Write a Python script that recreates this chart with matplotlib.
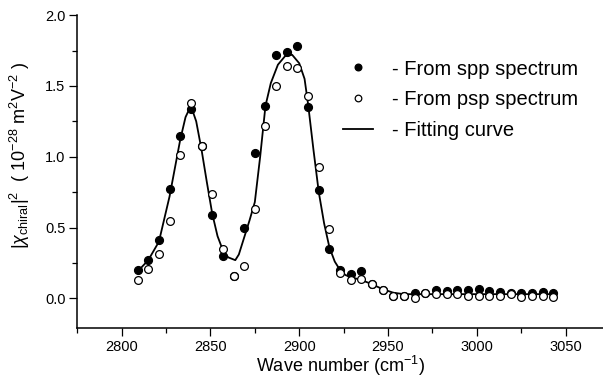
import numpy as np
import matplotlib
matplotlib.use("Agg")
import matplotlib.pyplot as plt
from matplotlib.ticker import MultipleLocator

plt.rcParams['font.family'] = ['Liberation Sans', 'DejaVu Sans']
plt.rcParams['mathtext.fontset'] = 'custom'
plt.rcParams['mathtext.rm'] = 'Liberation Sans'
plt.rcParams['mathtext.it'] = 'Liberation Sans:italic'

# measured points (wave number in cm^-1)
wave = 2809 + 6 * np.arange(40)

spp = [0.20, 0.27, 0.41, 0.77, 1.15, 1.34, 1.075, 0.59, 0.30, 0.16,
       0.50, 1.03, 1.36, 1.72, 1.74, 1.78, 1.35, 0.765, 0.35, 0.20,
       0.17, 0.19, 0.10, 0.06, 0.02, 0.015, 0.035, 0.04, 0.06, 0.055,
       0.06, 0.06, 0.065, 0.05, 0.045, 0.035, 0.035, 0.035, 0.045, 0.04]

psp = [0.13, 0.21, 0.31, 0.55, 1.01, 1.38, 1.075, 0.74, 0.35, 0.16,
       0.23, 0.63, 1.22, 1.50, 1.64, 1.63, 1.43, 0.93, 0.49, 0.18,
       0.13, 0.14, 0.10, 0.06, 0.02, 0.015, 0.005, 0.04, 0.03, 0.03,
       0.03, 0.02, 0.02, 0.02, 0.015, 0.03, 0.01, 0.015, 0.015, 0.01]

# fitting curve
fit_x = [2809, 2815, 2821, 2827, 2833, 2836, 2839, 2842, 2845, 2848,
         2851, 2854, 2857, 2860, 2864, 2866, 2869, 2872, 2875, 2878,
         2881, 2884, 2888, 2892, 2896, 2900, 2903, 2905, 2908, 2911,
         2914, 2917, 2920, 2923, 2926, 2929, 2935, 2941, 2947, 2953,
         2959, 2970, 2990, 3010, 3030, 3043]
fit_y = [0.19, 0.27, 0.40, 0.72, 1.12, 1.28, 1.36, 1.25, 1.05, 0.82,
         0.60, 0.44, 0.34, 0.29, 0.27, 0.31, 0.43, 0.55, 0.68, 1.00,
         1.36, 1.52, 1.65, 1.71, 1.72, 1.66, 1.55, 1.37, 1.05, 0.75,
         0.53, 0.36, 0.26, 0.20, 0.165, 0.15, 0.13, 0.10, 0.065, 0.04,
         0.03, 0.03, 0.03, 0.03, 0.03, 0.03]

fig = plt.figure(figsize=(6.03, 3.78), dpi=100)
ax = fig.add_axes([0.128, 0.133, 0.872, 0.827])

ax.plot(fit_x, fit_y, color='black', lw=1.3, zorder=1, label='- Fitting curve')
ax.plot(wave, spp, 'o', color='black', ms=5.6, zorder=2, label='- From spp spectrum')
ax.plot(wave, psp, 'o', mfc='white', mec='black', mew=0.9, ms=5.6, zorder=3,
        label='- From psp spectrum')

ax.set_xlim(2775, 3071)
ax.set_ylim(-0.207, 2.0)
ax.xaxis.set_major_locator(MultipleLocator(50))
ax.xaxis.set_minor_locator(MultipleLocator(25))
ax.yaxis.set_major_locator(MultipleLocator(0.5))
ax.yaxis.set_minor_locator(MultipleLocator(0.25))
ax.yaxis.set_major_formatter(matplotlib.ticker.FormatStrFormatter('%.1f'))

for s in ['top', 'right']:
    ax.spines[s].set_visible(False)
for s in ['left', 'bottom']:
    ax.spines[s].set_linewidth(1.1)
ax.tick_params(which='major', direction='out', length=5.5, width=0.9, labelsize=10.5, pad=3)
ax.tick_params(which='minor', direction='out', length=3.5, width=0.9)

ax.set_xlabel('Wave number (cm$^{-1}$)', fontsize=13, labelpad=0.5)
ax.set_ylabel(r'$|\chi_{\rm chiral}|^2$  ( 10$^{-28}$ m$^2$V$^{-2}$ )', fontsize=13)
ax.yaxis.set_label_coords(-0.086, 0.55)

handles, labels = ax.get_legend_handles_labels()
order = [1, 2, 0]
ax.legend([handles[i] for i in order], [labels[i] for i in order],
          loc='upper left', bbox_to_anchor=(0.505, 0.858), frameon=False,
          fontsize=14.5, borderpad=0, borderaxespad=0, handlelength=1.5,
          handletextpad=0.95, labelspacing=0.58, markerscale=0.85)

fig.savefig('out.png', dpi=100)
